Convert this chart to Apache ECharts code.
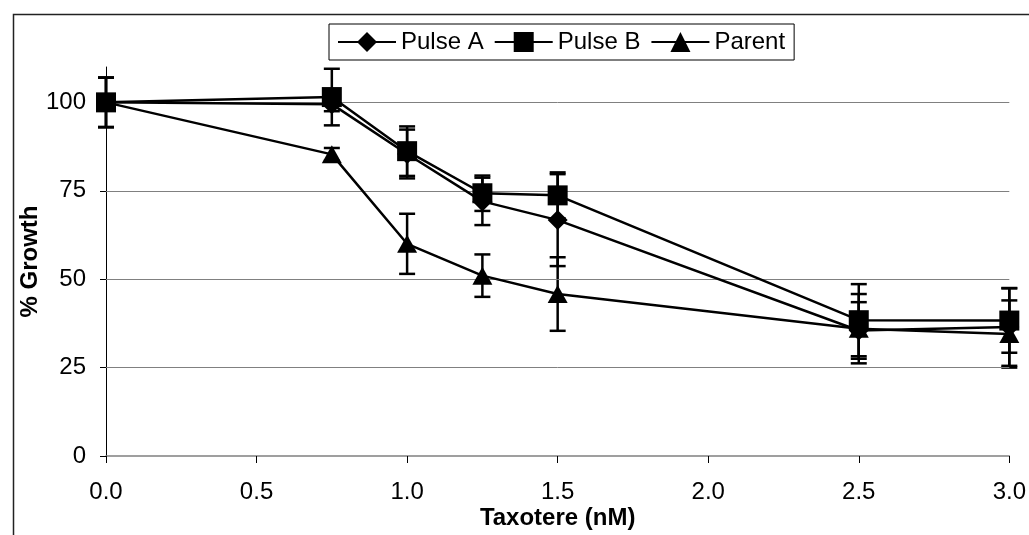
<!DOCTYPE html>
<html>
<head>
<meta charset="utf-8">
<script src="https://cdn.jsdelivr.net/npm/echarts@6/dist/echarts.min.js"></script>
<style>
html,body{margin:0;padding:0;background:#fff;}
#chart{width:1029px;height:535px;}
</style>
</head>
<body>
<div id="chart"></div>
<script>
// ---- data ----
var doses = [0, 0.75, 1.0, 1.25, 1.5, 2.5, 3.0];
var pulseA = [100, 99.5, 85.4, 72, 66.7, 35.5, 36.5];
var pulseAErr = [7, 2, 6.9, 6.7, 13, 8, 11];
var pulseB = [100, 101.5, 86.2, 74.3, 73.7, 38.4, 38.3];
var pulseBErr = [7, 8, 7, 5, 6.5, 10.2, 9.1];
var parent = [100, 85.3, 60, 51, 45.8, 36, 34.5];
var parentErr = [7, 1.8, 8.5, 6, 10.4, 9.8, 9.5];
var yTicks = [0, 25, 50, 75, 100];
var gridValues = [25, 50, 75, 100];
var seriesNames = ['Pulse A', 'Pulse B', 'Parent'];

var FONT = 'Liberation Sans, Arial, sans-serif';

function pts(vals) { return doses.map(function (d, i) { return [d, vals[i]]; }); }
function errPts(vals, errs) { return doses.map(function (d, i) { return [d, vals[i] - errs[i], vals[i] + errs[i]]; }); }

function errRender(params, api) {
  var x = api.value(0), lo = api.value(1), hi = api.value(2);
  var p1 = api.coord([x, hi]), p2 = api.coord([x, lo]);
  var w = 8;
  var st = { stroke: '#000', lineWidth: 2.5 };
  return {
    type: 'group',
    children: [
      { type: 'line', shape: { x1: p1[0], y1: p1[1], x2: p2[0], y2: p2[1] }, style: st },
      { type: 'line', shape: { x1: p1[0] - w, y1: p1[1], x2: p1[0] + w, y2: p1[1] }, style: st },
      { type: 'line', shape: { x1: p2[0] - w, y1: p2[1], x2: p2[0] + w, y2: p2[1] }, style: st }
    ]
  };
}

function lineSeries(name, vals, symbol, size) {
  return {
    name: name, type: 'line', data: pts(vals), symbol: symbol, symbolSize: size,
    lineStyle: { color: '#000', width: 2.5 }, itemStyle: { color: '#000' },
    z: 5, animation: false
  };
}
function errSeries(name, vals, errs) {
  return {
    name: name + ' err', type: 'custom', data: errPts(vals, errs), renderItem: errRender,
    z: 4, animation: false, silent: true
  };
}

var chart = echarts.init(document.getElementById('chart'));
chart.setOption({
  animation: false,
  backgroundColor: '#fff',
  textStyle: { fontFamily: FONT },
  graphic: [{
    type: 'rect', left: 11, top: 12, shape: { x: 0, y: 0, width: 1100, height: 600 },
    style: { fill: 'none', stroke: '#222', lineWidth: 1.5 }, z: -1
  }],
  legend: {
    data: seriesNames,
    left: 329, top: 24,
    orient: 'horizontal',
    itemWidth: 58, itemHeight: 25, itemGap: 10,
    padding: [6, 9, 6, 8],
    borderColor: '#000', borderWidth: 1,
    textStyle: { fontFamily: FONT, fontSize: 24, color: '#000' }
  },
  grid: { left: 106, top: 67, width: 904, height: 389, containLabel: false },
  xAxis: {
    type: 'value', min: 0, max: 3, interval: 0.5,
    name: 'Taxotere (nM)', nameLocation: 'middle', nameGap: 50, nameMoveOverlap: false,
    nameTextStyle: { fontFamily: FONT, fontSize: 24, fontWeight: 'bold', color: '#000' },
    axisLine: { show: true, lineStyle: { color: '#808080', width: 1.5 } },
    axisTick: { show: true, length: 7, lineStyle: { color: '#000', width: 1 } },
    axisLabel: { fontFamily: FONT, fontSize: 24, color: '#000', margin: 24,
      formatter: function (v) { return v.toFixed(1); } },
    splitLine: { show: false }
  },
  yAxis: {
    type: 'value', min: 0, max: 110, interval: 25,
    name: '% Growth', nameLocation: 'middle', nameGap: 64, nameMoveOverlap: false,
    nameTextStyle: { fontFamily: FONT, fontSize: 24, fontWeight: 'bold', color: '#000' },
    axisLine: { show: true, onZero: false, lineStyle: { color: '#000', width: 1 } },
    axisTick: { show: true, length: 6, customValues: yTicks, lineStyle: { color: '#000', width: 1 } },
    axisLabel: { fontFamily: FONT, fontSize: 24, color: '#000', margin: 20, customValues: yTicks },
    splitLine: { show: false }
  },
  series: [
    {
      name: 'grid', type: 'line', data: [], silent: true, z: 1,
      markLine: {
        silent: true, symbol: ['none', 'none'], label: { show: false },
        lineStyle: { color: '#808080', width: 1, type: 'solid' },
        data: gridValues.map(function (v) { return { yAxis: v }; }),
        animation: false
      }
    },
    errSeries('Pulse A', pulseA, pulseAErr),
    errSeries('Pulse B', pulseB, pulseBErr),
    errSeries('Parent', parent, parentErr),
    lineSeries('Pulse A', pulseA, 'diamond', 20),
    lineSeries('Pulse B', pulseB, 'rect', 20),
    lineSeries('Parent', parent, 'triangle', [20, 18])
  ]
});
</script>
</body>
</html>
